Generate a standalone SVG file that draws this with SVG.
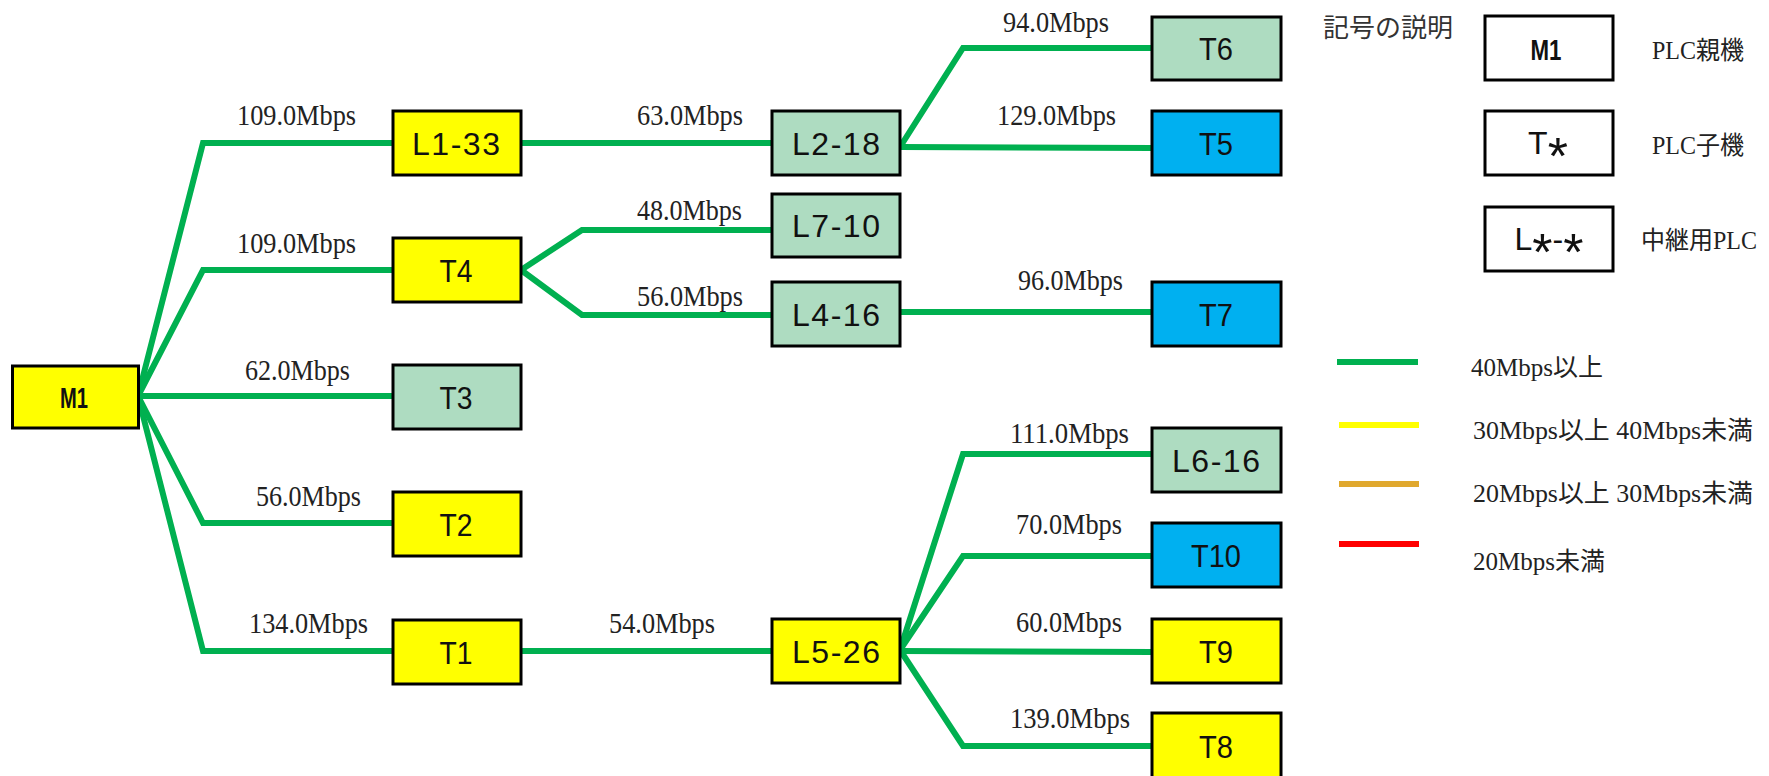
<svg xmlns="http://www.w3.org/2000/svg" width="1769" height="776" viewBox="0 0 1769 776">
  <style>
    .box { stroke: #000; stroke-width: 3; }
    .yel { fill: #FFFF00; }
    .grn { fill: #AEDCC1; }
    .blu { fill: #00B0F0; }
    .wht { fill: #FFFFFF; }
    .lbl { font-family: "Liberation Sans", Arial, sans-serif; font-size: 32px; fill: #111; text-anchor: middle; }
    .bold { font-weight: bold; font-size: 30px; }
    .rate { font-family: "Liberation Serif", "Noto Sans CJK JP", serif; font-size: 30px; fill: #222; }
    .jp { font-family: "Liberation Serif", "Noto Sans CJK JP", serif; font-size: 25px; fill: #222; }
    .jps { font-family: "Noto Sans CJK JP", sans-serif; font-size: 26px; fill: #333; }
    .link { fill: none; stroke: #00B050; stroke-width: 6; stroke-linejoin: miter; }
    .ast { font-size: 52px; }
  </style>
  <rect width="1769" height="776" fill="#FFFFFF"/>

  <!-- connectors -->
  <g id="connectors" class="link">
    <polyline points="138,396 203,143 393,143"/>
    <polyline points="138,396 203,270 393,270"/>
    <polyline points="138,396 393,396"/>
    <polyline points="138,396 203,523 393,523"/>
    <polyline points="138,396 203,651 393,651"/>
    <polyline points="521,143 772,143"/>
    <polyline points="521,270 582,230 772,230"/>
    <polyline points="521,270 582,315 772,315"/>
    <polyline points="900,147 963,48 1152,48"/>
    <polyline points="900,147 1152,148"/>
    <polyline points="900,312 1152,312"/>
    <polyline points="521,651 772,651"/>
    <polyline points="900,650 963,454 1152,454"/>
    <polyline points="900,650 963,556 1152,556"/>
    <polyline points="900,651 1152,652"/>
    <polyline points="900,650 963,746 1152,746"/>
  </g>

  <!-- link rates -->
  <g id="rates" class="rate">
    <text x="237" y="125" textLength="119" lengthAdjust="spacingAndGlyphs">109.0Mbps</text>
    <text x="237" y="253" textLength="119" lengthAdjust="spacingAndGlyphs">109.0Mbps</text>
    <text x="245" y="380" textLength="105" lengthAdjust="spacingAndGlyphs">62.0Mbps</text>
    <text x="256" y="506" textLength="105" lengthAdjust="spacingAndGlyphs">56.0Mbps</text>
    <text x="249" y="633" textLength="119" lengthAdjust="spacingAndGlyphs">134.0Mbps</text>
    <text x="637" y="125" textLength="106" lengthAdjust="spacingAndGlyphs">63.0Mbps</text>
    <text x="637" y="220" textLength="105" lengthAdjust="spacingAndGlyphs">48.0Mbps</text>
    <text x="637" y="306" textLength="106" lengthAdjust="spacingAndGlyphs">56.0Mbps</text>
    <text x="609" y="633" textLength="106" lengthAdjust="spacingAndGlyphs">54.0Mbps</text>
    <text x="1003" y="32" textLength="106" lengthAdjust="spacingAndGlyphs">94.0Mbps</text>
    <text x="997" y="125" textLength="119" lengthAdjust="spacingAndGlyphs">129.0Mbps</text>
    <text x="1018" y="290" textLength="105" lengthAdjust="spacingAndGlyphs">96.0Mbps</text>
    <text x="1010" y="443" textLength="119" lengthAdjust="spacingAndGlyphs">111.0Mbps</text>
    <text x="1016" y="534" textLength="106" lengthAdjust="spacingAndGlyphs">70.0Mbps</text>
    <text x="1016" y="632" textLength="106" lengthAdjust="spacingAndGlyphs">60.0Mbps</text>
    <text x="1010" y="728" textLength="120" lengthAdjust="spacingAndGlyphs">139.0Mbps</text>
  </g>

  <!-- parent unit -->
  <g id="node-M1">
    <rect class="box yel" x="12.5" y="366" width="126" height="62"/>
    <text class="lbl bold" x="74" y="408" textLength="28" lengthAdjust="spacingAndGlyphs">M1</text>
  </g>

  <!-- second column -->
  <g id="node-L1-33">
    <rect class="box yel" x="393" y="111" width="128" height="64"/>
    <text class="lbl" x="456" y="155" textLength="88" lengthAdjust="spacing">L1-33</text>
  </g>
  <g id="node-T4">
    <rect class="box yel" x="393" y="238" width="128" height="64"/>
    <text class="lbl" x="456" y="282" textLength="33" lengthAdjust="spacingAndGlyphs">T4</text>
  </g>
  <g id="node-T3">
    <rect class="box grn" x="393" y="365" width="128" height="64"/>
    <text class="lbl" x="456" y="409" textLength="33" lengthAdjust="spacingAndGlyphs">T3</text>
  </g>
  <g id="node-T2">
    <rect class="box yel" x="393" y="492" width="128" height="64"/>
    <text class="lbl" x="456" y="536" textLength="33" lengthAdjust="spacingAndGlyphs">T2</text>
  </g>
  <g id="node-T1">
    <rect class="box yel" x="393" y="620" width="128" height="64"/>
    <text class="lbl" x="456" y="664" textLength="33" lengthAdjust="spacingAndGlyphs">T1</text>
  </g>

  <!-- third column -->
  <g id="node-L2-18">
    <rect class="box grn" x="772" y="111" width="128" height="64"/>
    <text class="lbl" x="836" y="155" textLength="88" lengthAdjust="spacing">L2-18</text>
  </g>
  <g id="node-L7-10">
    <rect class="box grn" x="772" y="194" width="128" height="63"/>
    <text class="lbl" x="836" y="237" textLength="88" lengthAdjust="spacing">L7-10</text>
  </g>
  <g id="node-L4-16">
    <rect class="box grn" x="772" y="282" width="128" height="64"/>
    <text class="lbl" x="836" y="326" textLength="88" lengthAdjust="spacing">L4-16</text>
  </g>
  <g id="node-L5-26">
    <rect class="box yel" x="772" y="619" width="128" height="64"/>
    <text class="lbl" x="836" y="663" textLength="88" lengthAdjust="spacing">L5-26</text>
  </g>

  <!-- fourth column -->
  <g id="node-T6">
    <rect class="box grn" x="1152" y="17" width="129" height="63"/>
    <text class="lbl" x="1216" y="60" textLength="34" lengthAdjust="spacingAndGlyphs">T6</text>
  </g>
  <g id="node-T5">
    <rect class="box blu" x="1152" y="111" width="129" height="64"/>
    <text class="lbl" x="1216" y="155" textLength="34" lengthAdjust="spacingAndGlyphs">T5</text>
  </g>
  <g id="node-T7">
    <rect class="box blu" x="1152" y="282" width="129" height="64"/>
    <text class="lbl" x="1216" y="326" textLength="34" lengthAdjust="spacingAndGlyphs">T7</text>
  </g>
  <g id="node-L6-16">
    <rect class="box grn" x="1152" y="428" width="129" height="64"/>
    <text class="lbl" x="1216" y="472" textLength="88" lengthAdjust="spacing">L6-16</text>
  </g>
  <g id="node-T10">
    <rect class="box blu" x="1152" y="523" width="129" height="64"/>
    <text class="lbl" x="1216" y="567" textLength="50" lengthAdjust="spacingAndGlyphs">T10</text>
  </g>
  <g id="node-T9">
    <rect class="box yel" x="1152" y="619" width="129" height="64"/>
    <text class="lbl" x="1216" y="663" textLength="34" lengthAdjust="spacingAndGlyphs">T9</text>
  </g>
  <g id="node-T8">
    <rect class="box yel" x="1152" y="713" width="129" height="66"/>
    <text class="lbl" x="1216" y="758" textLength="34" lengthAdjust="spacingAndGlyphs">T8</text>
  </g>

  <!-- legend: symbols -->
  <g id="legend-symbols">
    <text class="jps" x="1323" y="37" textLength="130" lengthAdjust="spacingAndGlyphs">記号の説明</text>
    <g id="legend-M1">
      <rect class="box wht" x="1485" y="16" width="128" height="64"/>
      <text class="lbl bold" x="1546" y="60" textLength="31" lengthAdjust="spacingAndGlyphs">M1</text>
      <text class="jp" x="1652" y="59" textLength="92" lengthAdjust="spacingAndGlyphs">PLC親機</text>
    </g>
    <g id="legend-T">
      <rect class="box wht" x="1485" y="111" width="128" height="64"/>
      <text class="lbl" x="1548" y="154">T<tspan class="ast" dy="20">*</tspan></text>
      <text class="jp" x="1652" y="154" textLength="92" lengthAdjust="spacingAndGlyphs">PLC子機</text>
    </g>
    <g id="legend-L">
      <rect class="box wht" x="1485" y="207" width="128" height="64"/>
      <text class="lbl" x="1549" y="250">L<tspan class="ast" dy="20">*</tspan><tspan dy="-20">-</tspan><tspan class="ast" dy="20">*</tspan></text>
      <text class="jp" x="1641" y="249" textLength="116" lengthAdjust="spacingAndGlyphs">中継用PLC</text>
    </g>
  </g>

  <!-- legend: link speed colours -->
  <g id="legend-lines">
    <line x1="1337" y1="362" x2="1418" y2="362" stroke="#00B050" stroke-width="6"/>
    <line x1="1339" y1="425" x2="1419" y2="425" stroke="#FFFF00" stroke-width="6"/>
    <line x1="1339" y1="484" x2="1419" y2="484" stroke="#E0A82E" stroke-width="6"/>
    <line x1="1339" y1="544" x2="1419" y2="544" stroke="#FF0000" stroke-width="6"/>
    <text class="jp" x="1471" y="376" textLength="132" lengthAdjust="spacingAndGlyphs">40Mbps以上</text>
    <text class="jp" x="1473" y="439" textLength="280" lengthAdjust="spacingAndGlyphs">30Mbps以上 40Mbps未満</text>
    <text class="jp" x="1473" y="502" textLength="280" lengthAdjust="spacingAndGlyphs">20Mbps以上 30Mbps未満</text>
    <text class="jp" x="1473" y="570" textLength="132" lengthAdjust="spacingAndGlyphs">20Mbps未満</text>
  </g>
</svg>
